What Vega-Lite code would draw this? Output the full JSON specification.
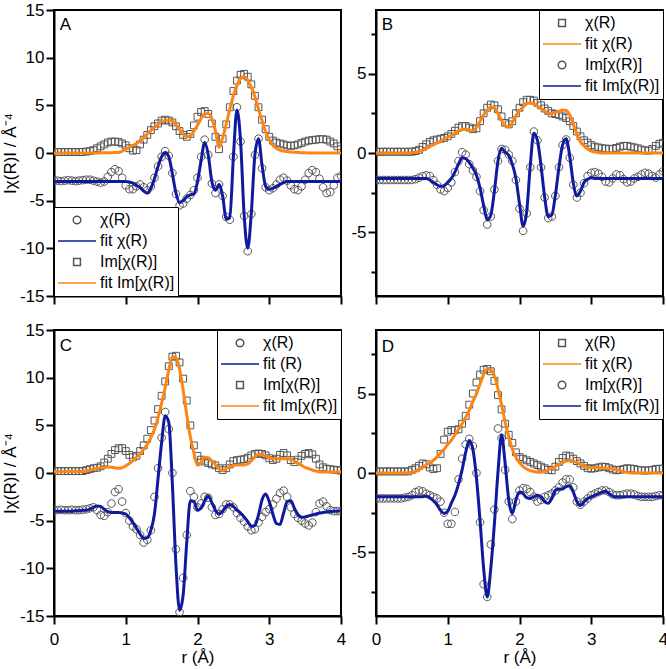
{
"$schema":"https://vega.github.io/schema/vega-lite/v6.json",
"background":"white",
"padding":0,
"autosize":{"type":"pad"},
"columns":2,
"spacing":{"row":34,"column":35},
"bounds":"flush",
"resolve":{"scale":{"x":"independent","y":"independent","shape":"independent","stroke":"independent"},"legend":{"shape":"independent","stroke":"independent"}},
"datasets":{
"A":[
{"r":0,"s":0.1,"c":-2.9,"fs":0,"fc":-3},{"r":0.05,"s":0.1,"c":-2.9,"fs":0,"fc":-3},{"r":0.1,"s":0.1,"c":-2.95,"fs":0,"fc":-3},{"r":0.15,"s":0.1,"c":-2.9,"fs":0,"fc":-3},{"r":0.2,"s":0.1,"c":-2.85,"fs":0,"fc":-3},{"r":0.25,"s":0.1,"c":-2.9,"fs":0,"fc":-3},{"r":0.3,"s":0.1,"c":-2.95,"fs":0,"fc":-3},{"r":0.35,"s":0.1,"c":-2.9,"fs":0,"fc":-3},{"r":0.4,"s":0.1,"c":-2.85,"fs":0,"fc":-3},{"r":0.45,"s":0.15,"c":-2.8,"fs":0,"fc":-3},{"r":0.5,"s":0.2,"c":-2.8,"fs":0,"fc":-3},{"r":0.55,"s":0.3,"c":-2.9,"fs":0,"fc":-3},{"r":0.6,"s":0.5,"c":-3,"fs":0,"fc":-3},{"r":0.65,"s":0.7,"c":-3.1,"fs":0.01,"fc":-3},{"r":0.7,"s":0.9,"c":-3,"fs":0.02,"fc":-3},{"r":0.75,"s":1.1,"c":-2.5,"fs":0.02,"fc":-3},{"r":0.8,"s":1.2,"c":-2,"fs":0.03,"fc":-3},{"r":0.85,"s":1.2,"c":-1.7,"fs":0.04,"fc":-3},{"r":0.9,"s":1.15,"c":-1.9,"fs":0.05,"fc":-3},{"r":0.95,"s":1,"c":-2.6,"fs":0.2,"fc":-3},{"r":1,"s":0.8,"c":-3.4,"fs":0.4,"fc":-3},{"r":1.05,"s":0.5,"c":-3.8,"fs":0.6,"fc":-3.05},{"r":1.1,"s":0.25,"c":-3.8,"fs":0.8,"fc":-3.15},{"r":1.15,"s":0.3,"c":-3.5,"fs":1,"fc":-3.4},{"r":1.2,"s":0.9,"c":-3.3,"fs":1.3,"fc":-3.6},{"r":1.25,"s":1.4,"c":-3.6,"fs":1.6,"fc":-4},{"r":1.3,"s":1.9,"c":-3.9,"fs":2,"fc":-4.2},{"r":1.35,"s":2.4,"c":-3.5,"fs":2.35,"fc":-3.7},{"r":1.4,"s":2.8,"c":-2.6,"fs":2.7,"fc":-2.7},{"r":1.45,"s":3.1,"c":-1.4,"fs":3,"fc":-1.4},{"r":1.5,"s":3.4,"c":-0.4,"fs":3.3,"fc":-0.4},{"r":1.55,"s":3.5,"c":0.2,"fs":3.4,"fc":0.05},{"r":1.6,"s":3.4,"c":-0.3,"fs":3.45,"fc":-0.4},{"r":1.65,"s":3.2,"c":-2.1,"fs":3.35,"fc":-2.2},{"r":1.7,"s":2.8,"c":-4.3,"fs":3,"fc":-4.2},{"r":1.75,"s":2.3,"c":-5.5,"fs":2.5,"fc":-5.2},{"r":1.8,"s":1.9,"c":-5.3,"fs":2,"fc":-5},{"r":1.85,"s":1.7,"c":-4.8,"fs":1.7,"fc":-4.6},{"r":1.9,"s":2,"c":-4.4,"fs":1.8,"fc":-4.4},{"r":1.95,"s":2.9,"c":-3.9,"fs":2.3,"fc":-4.3},{"r":2,"s":3.8,"c":-2.6,"fs":2.9,"fc":-3},{"r":2.05,"s":4.3,"c":-0.4,"fs":3.6,"fc":-0.8},{"r":2.1,"s":4.4,"c":1.4,"fs":4.1,"fc":1.1},{"r":2.15,"s":4.1,"c":-0.2,"fs":4.15,"fc":-0.2},{"r":2.2,"s":3.1,"c":-3.2,"fs":3.6,"fc":-3},{"r":2.25,"s":1.7,"c":-4.2,"fs":2.3,"fc":-3.9},{"r":2.3,"s":0.4,"c":-3.3,"fs":0.6,"fc":-3.3},{"r":2.35,"s":1.5,"c":-4.5,"fs":1.6,"fc":-4.5},{"r":2.4,"s":3,"c":-6.7,"fs":3,"fc":-6.9},{"r":2.45,"s":4.8,"c":-7,"fs":4.6,"fc":-6.8},{"r":2.5,"s":6.5,"c":-0.4,"fs":6,"fc":-0.4},{"r":2.55,"s":7.6,"c":4.8,"fs":7.1,"fc":4.5},{"r":2.6,"s":8.2,"c":1.2,"fs":7.8,"fc":1.3},{"r":2.65,"s":8.3,"c":-6.6,"fs":8,"fc":-6.5},{"r":2.7,"s":8,"c":-10.3,"fs":7.6,"fc":-10},{"r":2.75,"s":7.2,"c":-6.4,"fs":6.9,"fc":-6.3},{"r":2.8,"s":6,"c":-0.2,"fs":5.9,"fc":-0.2},{"r":2.85,"s":4.8,"c":1.5,"fs":4.6,"fc":1.5},{"r":2.9,"s":3.5,"c":-1.6,"fs":3.4,"fc":-1.3},{"r":2.95,"s":2.5,"c":-3.6,"fs":2.2,"fc":-3.5},{"r":3,"s":1.7,"c":-3.9,"fs":1.4,"fc":-3.8},{"r":3.05,"s":1.3,"c":-3.7,"fs":0.8,"fc":-3.7},{"r":3.1,"s":1.1,"c":-3.3,"fs":0.5,"fc":-3.5},{"r":3.15,"s":1,"c":-2.8,"fs":0.3,"fc":-3.3},{"r":3.2,"s":0.9,"c":-2.6,"fs":0.2,"fc":-3.1},{"r":3.25,"s":0.8,"c":-2.9,"fs":0.15,"fc":-3},{"r":3.3,"s":0.75,"c":-3.4,"fs":0.1,"fc":-3},{"r":3.35,"s":0.8,"c":-3.8,"fs":0.08,"fc":-3},{"r":3.4,"s":0.9,"c":-3.9,"fs":0.05,"fc":-3},{"r":3.45,"s":1.05,"c":-3.5,"fs":0.03,"fc":-3},{"r":3.5,"s":1.2,"c":-2.8,"fs":0.02,"fc":-3},{"r":3.55,"s":1.3,"c":-2.1,"fs":0.01,"fc":-3},{"r":3.6,"s":1.35,"c":-1.8,"fs":0,"fc":-3},{"r":3.65,"s":1.4,"c":-2,"fs":0,"fc":-3},{"r":3.7,"s":1.45,"c":-2.7,"fs":0,"fc":-3},{"r":3.75,"s":1.45,"c":-3.6,"fs":0,"fc":-3},{"r":3.8,"s":1.4,"c":-4.2,"fs":0,"fc":-3},{"r":3.85,"s":1.2,"c":-4.1,"fs":0,"fc":-3},{"r":3.9,"s":1,"c":-3.4,"fs":0,"fc":-3},{"r":3.95,"s":0.7,"c":-2.6,"fs":0,"fc":-3},{"r":4,"s":0.4,"c":-2.4,"fs":0,"fc":-3}
],
"B":[
{"r":0,"s":0.08,"c":-1.7,"fs":0,"fc":-1.6},{"r":0.05,"s":0.08,"c":-1.7,"fs":0,"fc":-1.6},{"r":0.1,"s":0.08,"c":-1.7,"fs":0,"fc":-1.6},{"r":0.15,"s":0.08,"c":-1.7,"fs":0,"fc":-1.6},{"r":0.2,"s":0.08,"c":-1.7,"fs":0,"fc":-1.6},{"r":0.25,"s":0.08,"c":-1.7,"fs":0,"fc":-1.6},{"r":0.3,"s":0.08,"c":-1.7,"fs":0,"fc":-1.6},{"r":0.35,"s":0.08,"c":-1.7,"fs":0,"fc":-1.6},{"r":0.4,"s":0.08,"c":-1.7,"fs":0,"fc":-1.6},{"r":0.45,"s":0.08,"c":-1.7,"fs":0,"fc":-1.6},{"r":0.5,"s":0.08,"c":-1.7,"fs":0.02,"fc":-1.6},{"r":0.55,"s":0.12,"c":-1.65,"fs":0.05,"fc":-1.6},{"r":0.6,"s":0.2,"c":-1.55,"fs":0.1,"fc":-1.6},{"r":0.65,"s":0.38,"c":-1.45,"fs":0.17,"fc":-1.6},{"r":0.7,"s":0.55,"c":-1.4,"fs":0.27,"fc":-1.6},{"r":0.75,"s":0.7,"c":-1.45,"fs":0.4,"fc":-1.7},{"r":0.8,"s":0.8,"c":-1.7,"fs":0.52,"fc":-1.85},{"r":0.85,"s":0.85,"c":-2,"fs":0.63,"fc":-2},{"r":0.9,"s":0.9,"c":-2.3,"fs":0.75,"fc":-2.1},{"r":0.95,"s":0.95,"c":-2.4,"fs":0.87,"fc":-2.05},{"r":1,"s":1.05,"c":-2.2,"fs":1,"fc":-1.85},{"r":1.05,"s":1.2,"c":-1.85,"fs":1.1,"fc":-1.6},{"r":1.1,"s":1.4,"c":-1.2,"fs":1.25,"fc":-1.2},{"r":1.15,"s":1.6,"c":-0.5,"fs":1.38,"fc":-0.7},{"r":1.2,"s":1.7,"c":0.05,"fs":1.48,"fc":-0.3},{"r":1.25,"s":1.7,"c":-0.1,"fs":1.5,"fc":-0.35},{"r":1.3,"s":1.6,"c":-0.7,"fs":1.42,"fc":-0.6},{"r":1.35,"s":1.5,"c":-1.1,"fs":1.4,"fc":-0.95},{"r":1.4,"s":1.55,"c":-1.5,"fs":1.6,"fc":-1.4},{"r":1.45,"s":2,"c":-2.4,"fs":2,"fc":-2.2},{"r":1.5,"s":2.5,"c":-3.6,"fs":2.4,"fc":-3.3},{"r":1.55,"s":2.85,"c":-4.5,"fs":2.7,"fc":-4.2},{"r":1.6,"s":3.05,"c":-4,"fs":2.9,"fc":-3.9},{"r":1.65,"s":3,"c":-2.3,"fs":2.85,"fc":-2.4},{"r":1.7,"s":2.75,"c":-0.5,"fs":2.5,"fc":-0.5},{"r":1.75,"s":2.3,"c":0.25,"fs":2.05,"fc":0.3},{"r":1.8,"s":1.9,"c":0.2,"fs":1.7,"fc":0.05},{"r":1.85,"s":1.8,"c":-0.1,"fs":1.65,"fc":-0.15},{"r":1.9,"s":2,"c":-0.5,"fs":1.9,"fc":-0.7},{"r":1.95,"s":2.5,"c":-1.7,"fs":2.35,"fc":-1.6},{"r":2,"s":2.85,"c":-3.5,"fs":2.65,"fc":-3.2},{"r":2.05,"s":3.2,"c":-4.9,"fs":2.9,"fc":-4.6},{"r":2.1,"s":3.35,"c":-3.8,"fs":3.1,"fc":-3.7},{"r":2.15,"s":3.35,"c":-0.9,"fs":3.15,"fc":-0.8},{"r":2.2,"s":3.3,"c":1.35,"fs":3.1,"fc":1.25},{"r":2.25,"s":3.15,"c":0.8,"fs":2.95,"fc":0.8},{"r":2.3,"s":3,"c":-0.9,"fs":2.8,"fc":-0.8},{"r":2.35,"s":2.8,"c":-2.8,"fs":2.65,"fc":-2.75},{"r":2.4,"s":2.65,"c":-4.1,"fs":2.5,"fc":-4},{"r":2.45,"s":2.5,"c":-4,"fs":2.5,"fc":-3.9},{"r":2.5,"s":2.45,"c":-2.7,"fs":2.55,"fc":-2.65},{"r":2.55,"s":2.4,"c":-0.9,"fs":2.62,"fc":-0.9},{"r":2.6,"s":2.3,"c":0.5,"fs":2.7,"fc":0.5},{"r":2.65,"s":2.2,"c":0.85,"fs":2.68,"fc":0.9},{"r":2.7,"s":2,"c":-0.3,"fs":2.4,"fc":-0.2},{"r":2.75,"s":1.7,"c":-2,"fs":1.8,"fc":-1.9},{"r":2.8,"s":1.35,"c":-2.8,"fs":1.2,"fc":-2.7},{"r":2.85,"s":1.05,"c":-2.5,"fs":0.7,"fc":-2.4},{"r":2.9,"s":0.8,"c":-1.9,"fs":0.45,"fc":-1.85},{"r":2.95,"s":0.65,"c":-1.45,"fs":0.25,"fc":-1.65},{"r":3,"s":0.5,"c":-1.25,"fs":0.12,"fc":-1.55},{"r":3.05,"s":0.4,"c":-1.2,"fs":0.06,"fc":-1.6},{"r":3.1,"s":0.35,"c":-1.3,"fs":0.03,"fc":-1.6},{"r":3.15,"s":0.3,"c":-1.5,"fs":0,"fc":-1.6},{"r":3.2,"s":0.28,"c":-1.8,"fs":0,"fc":-1.6},{"r":3.25,"s":0.25,"c":-1.85,"fs":0,"fc":-1.6},{"r":3.3,"s":0.27,"c":-1.6,"fs":0,"fc":-1.6},{"r":3.35,"s":0.32,"c":-1.35,"fs":0,"fc":-1.6},{"r":3.4,"s":0.4,"c":-1.4,"fs":0,"fc":-1.6},{"r":3.45,"s":0.45,"c":-1.65,"fs":0,"fc":-1.6},{"r":3.5,"s":0.45,"c":-1.85,"fs":0,"fc":-1.6},{"r":3.55,"s":0.4,"c":-1.8,"fs":0,"fc":-1.6},{"r":3.6,"s":0.35,"c":-1.6,"fs":0,"fc":-1.6},{"r":3.65,"s":0.3,"c":-1.5,"fs":0,"fc":-1.6},{"r":3.7,"s":0.22,"c":-1.35,"fs":0,"fc":-1.6},{"r":3.75,"s":0.16,"c":-1.25,"fs":0,"fc":-1.6},{"r":3.8,"s":0.15,"c":-1.3,"fs":0,"fc":-1.6},{"r":3.85,"s":0.25,"c":-1.45,"fs":0,"fc":-1.6},{"r":3.9,"s":0.45,"c":-1.55,"fs":0,"fc":-1.6},{"r":3.95,"s":0.58,"c":-1.35,"fs":0,"fc":-1.6},{"r":4,"s":0.65,"c":-1.15,"fs":0,"fc":-1.6}
],
"C":[
{"r":0,"s":0.2,"c":-3.9,"fs":0.15,"fc":-4},{"r":0.05,"s":0.2,"c":-3.9,"fs":0.15,"fc":-4},{"r":0.1,"s":0.2,"c":-3.85,"fs":0.15,"fc":-4},{"r":0.15,"s":0.2,"c":-3.9,"fs":0.15,"fc":-4},{"r":0.2,"s":0.2,"c":-3.9,"fs":0.15,"fc":-4},{"r":0.25,"s":0.2,"c":-3.85,"fs":0.15,"fc":-4},{"r":0.3,"s":0.2,"c":-3.9,"fs":0.15,"fc":-3.95},{"r":0.35,"s":0.2,"c":-3.9,"fs":0.15,"fc":-3.95},{"r":0.4,"s":0.2,"c":-3.85,"fs":0.15,"fc":-3.9},{"r":0.45,"s":0.3,"c":-3.8,"fs":0.2,"fc":-3.9},{"r":0.5,"s":0.4,"c":-3.7,"fs":0.3,"fc":-3.8},{"r":0.55,"s":0.5,"c":-3.6,"fs":0.4,"fc":-3.6},{"r":0.6,"s":0.55,"c":-3.9,"fs":0.5,"fc":-3.45},{"r":0.65,"s":0.7,"c":-4.4,"fs":0.55,"fc":-3.5},{"r":0.7,"s":1.1,"c":-4.5,"fs":0.6,"fc":-3.8},{"r":0.75,"s":1.5,"c":-4.1,"fs":0.62,"fc":-4.05},{"r":0.8,"s":2,"c":-3.2,"fs":0.6,"fc":-4.15},{"r":0.85,"s":2.4,"c":-2,"fs":0.55,"fc":-4.15},{"r":0.9,"s":2.6,"c":-1.7,"fs":0.5,"fc":-4.15},{"r":0.95,"s":2.6,"c":-3,"fs":0.55,"fc":-4.2},{"r":1,"s":2.3,"c":-4.2,"fs":0.75,"fc":-4.3},{"r":1.05,"s":1.9,"c":-5,"fs":1,"fc":-4.7},{"r":1.1,"s":1.65,"c":-5.6,"fs":1.3,"fc":-5.2},{"r":1.15,"s":1.8,"c":-5.9,"fs":1.65,"fc":-5.8},{"r":1.2,"s":2.3,"c":-6.5,"fs":2,"fc":-6.4},{"r":1.25,"s":2.9,"c":-7.3,"fs":2.5,"fc":-6.85},{"r":1.3,"s":3.6,"c":-7,"fs":3,"fc":-6.8},{"r":1.35,"s":4.5,"c":-6,"fs":3.7,"fc":-6},{"r":1.4,"s":5.5,"c":-2.5,"fs":4.6,"fc":-4.3},{"r":1.45,"s":6.7,"c":0.5,"fs":5.8,"fc":-0.6},{"r":1.5,"s":8.1,"c":3.7,"fs":7.3,"fc":3.2},{"r":1.55,"s":9.6,"c":6.4,"fs":9,"fc":6},{"r":1.6,"s":11.2,"c":4.6,"fs":10.8,"fc":5.3},{"r":1.65,"s":12.2,"c":0,"fs":12.2,"fc":-1.2},{"r":1.7,"s":12.3,"c":-8,"fs":12.1,"fc":-9.7},{"r":1.75,"s":11.6,"c":-14.6,"fs":10.9,"fc":-14.4},{"r":1.8,"s":9.9,"c":-11,"fs":8.7,"fc":-12.8},{"r":1.85,"s":7.6,"c":-6.5,"fs":6.1,"fc":-7.3},{"r":1.9,"s":5,"c":-1.9,"fs":3.8,"fc":-2.9},{"r":1.95,"s":2.9,"c":-2.5,"fs":2.1,"fc":-3},{"r":2,"s":1.8,"c":-3.6,"fs":0.8,"fc":-3.9},{"r":2.05,"s":1.4,"c":-3.2,"fs":1.1,"fc":-3.7},{"r":2.1,"s":1.2,"c":-2.5,"fs":1.65,"fc":-2.9},{"r":2.15,"s":1.05,"c":-2.6,"fs":1.6,"fc":-2.4},{"r":2.2,"s":0.9,"c":-3.6,"fs":1.25,"fc":-3.1},{"r":2.25,"s":0.8,"c":-4.4,"fs":0.9,"fc":-3.9},{"r":2.3,"s":0.5,"c":-4.3,"fs":0.45,"fc":-4.3},{"r":2.35,"s":0.3,"c":-3.8,"fs":0.25,"fc":-4},{"r":2.4,"s":0.5,"c":-3.3,"fs":0.45,"fc":-3.5},{"r":2.45,"s":0.9,"c":-3.3,"fs":0.65,"fc":-3.3},{"r":2.5,"s":1.25,"c":-3.6,"fs":0.8,"fc":-3.5},{"r":2.55,"s":1.35,"c":-4.2,"fs":0.85,"fc":-3.9},{"r":2.6,"s":1.4,"c":-4.7,"fs":0.85,"fc":-4.2},{"r":2.65,"s":1.45,"c":-5.1,"fs":0.85,"fc":-4.6},{"r":2.7,"s":1.6,"c":-5.6,"fs":0.95,"fc":-5.1},{"r":2.75,"s":1.85,"c":-6,"fs":1.3,"fc":-5.6},{"r":2.8,"s":2,"c":-5.9,"fs":1.7,"fc":-5.5},{"r":2.85,"s":2.05,"c":-5.2,"fs":1.95,"fc":-4.4},{"r":2.9,"s":2,"c":-4.6,"fs":1.95,"fc":-2.8},{"r":2.95,"s":1.85,"c":-4.1,"fs":1.8,"fc":-2.2},{"r":3,"s":1.55,"c":-3.8,"fs":1.6,"fc":-3},{"r":3.05,"s":1.35,"c":-3.3,"fs":1.5,"fc":-4.3},{"r":3.1,"s":1.5,"c":-2.7,"fs":1.5,"fc":-5.3},{"r":3.15,"s":1.9,"c":-2.1,"fs":1.5,"fc":-5.4},{"r":3.2,"s":2.1,"c":-1.85,"fs":1.5,"fc":-4.2},{"r":3.25,"s":1.85,"c":-2.5,"fs":1.5,"fc":-3},{"r":3.3,"s":1.35,"c":-3.6,"fs":1.45,"fc":-2.9},{"r":3.35,"s":1.15,"c":-4.3,"fs":1.25,"fc":-3.7},{"r":3.4,"s":1.4,"c":-4.7,"fs":1,"fc":-4.4},{"r":3.45,"s":1.8,"c":-5,"fs":0.8,"fc":-4.65},{"r":3.5,"s":2,"c":-5.3,"fs":0.6,"fc":-4.6},{"r":3.55,"s":2.1,"c":-5.5,"fs":0.45,"fc":-4.5},{"r":3.6,"s":1.95,"c":-5.2,"fs":0.3,"fc":-4.4},{"r":3.65,"s":1.5,"c":-4.1,"fs":0.2,"fc":-4.3},{"r":3.7,"s":0.9,"c":-3.2,"fs":0.12,"fc":-4.2},{"r":3.75,"s":0.6,"c":-3,"fs":0.1,"fc":-4.15},{"r":3.8,"s":0.45,"c":-3.5,"fs":0.1,"fc":-4.1},{"r":3.85,"s":0.4,"c":-3.9,"fs":0.1,"fc":-4.05},{"r":3.9,"s":0.35,"c":-4,"fs":0.1,"fc":-4},{"r":3.95,"s":0.3,"c":-4,"fs":0.1,"fc":-4},{"r":4,"s":0.25,"c":-4,"fs":0.1,"fc":-3.95}
],
"D":[
{"r":0,"s":0.1,"c":-1.6,"fs":0,"fc":-1.5},{"r":0.05,"s":0.1,"c":-1.6,"fs":0,"fc":-1.5},{"r":0.1,"s":0.1,"c":-1.6,"fs":0,"fc":-1.5},{"r":0.15,"s":0.1,"c":-1.6,"fs":0,"fc":-1.5},{"r":0.2,"s":0.1,"c":-1.6,"fs":0,"fc":-1.5},{"r":0.25,"s":0.1,"c":-1.6,"fs":0,"fc":-1.5},{"r":0.3,"s":0.1,"c":-1.6,"fs":0,"fc":-1.5},{"r":0.35,"s":0.1,"c":-1.6,"fs":0,"fc":-1.5},{"r":0.4,"s":0.1,"c":-1.55,"fs":0,"fc":-1.5},{"r":0.45,"s":0.1,"c":-1.5,"fs":0,"fc":-1.5},{"r":0.5,"s":0.2,"c":-1.4,"fs":0.05,"fc":-1.5},{"r":0.55,"s":0.3,"c":-1.2,"fs":0.1,"fc":-1.5},{"r":0.6,"s":0.45,"c":-1.1,"fs":0.2,"fc":-1.5},{"r":0.65,"s":0.6,"c":-1.15,"fs":0.35,"fc":-1.5},{"r":0.7,"s":0.55,"c":-1.3,"fs":0.5,"fc":-1.45},{"r":0.75,"s":0.35,"c":-1.4,"fs":0.65,"fc":-1.55},{"r":0.8,"s":0.25,"c":-1.5,"fs":0.8,"fc":-1.75},{"r":0.85,"s":0.3,"c":-1.6,"fs":1,"fc":-2},{"r":0.9,"s":1.2,"c":-1.8,"fs":1.25,"fc":-2.35},{"r":0.95,"s":2.1,"c":-2.5,"fs":1.5,"fc":-2.55},{"r":1,"s":2.6,"c":-3.2,"fs":1.8,"fc":-2.4},{"r":1.05,"s":2.7,"c":-3.2,"fs":2.05,"fc":-1.9},{"r":1.1,"s":2.7,"c":-2.45,"fs":2.4,"fc":-1.4},{"r":1.15,"s":2.75,"c":-0.4,"fs":2.75,"fc":-0.7},{"r":1.2,"s":3.1,"c":0.9,"fs":3.1,"fc":0.2},{"r":1.25,"s":3.6,"c":1.8,"fs":3.5,"fc":1.3},{"r":1.3,"s":4.3,"c":2.15,"fs":3.95,"fc":2.05},{"r":1.35,"s":5,"c":1.7,"fs":4.5,"fc":1.5},{"r":1.4,"s":5.7,"c":0,"fs":5,"fc":-0.3},{"r":1.45,"s":6.2,"c":-3.1,"fs":5.6,"fc":-3},{"r":1.5,"s":6.5,"c":-7,"fs":6.2,"fc":-6},{"r":1.55,"s":6.55,"c":-7.8,"fs":6.55,"fc":-7.8},{"r":1.6,"s":6.4,"c":-4.5,"fs":6.5,"fc":-6},{"r":1.65,"s":5.8,"c":-2.3,"fs":6.1,"fc":-3.2},{"r":1.7,"s":4.9,"c":2.8,"fs":5.3,"fc":0.05},{"r":1.75,"s":4,"c":2.2,"fs":4.3,"fc":2.4},{"r":1.8,"s":3.1,"c":0.2,"fs":3.2,"fc":0.6},{"r":1.85,"s":2.4,"c":-1.8,"fs":2.3,"fc":-1.7},{"r":1.9,"s":1.9,"c":-2.9,"fs":1.5,"fc":-2.55},{"r":1.95,"s":1.3,"c":-1.8,"fs":1,"fc":-1.7},{"r":2,"s":1,"c":-1.1,"fs":0.65,"fc":-1.2},{"r":2.05,"s":0.9,"c":-0.95,"fs":0.4,"fc":-1.3},{"r":2.1,"s":0.8,"c":-1,"fs":0.25,"fc":-1.55},{"r":2.15,"s":0.7,"c":-1.2,"fs":0.15,"fc":-1.6},{"r":2.2,"s":0.6,"c":-1.5,"fs":0.1,"fc":-1.5},{"r":2.25,"s":0.5,"c":-1.8,"fs":0.05,"fc":-1.4},{"r":2.3,"s":0.4,"c":-1.7,"fs":0.05,"fc":-1.5},{"r":2.35,"s":0.3,"c":-1.5,"fs":0.1,"fc":-1.8},{"r":2.4,"s":0.2,"c":-1.4,"fs":0.2,"fc":-1.9},{"r":2.45,"s":0.17,"c":-1.3,"fs":0.3,"fc":-1.6},{"r":2.5,"s":0.4,"c":-1.1,"fs":0.42,"fc":-1.1},{"r":2.55,"s":0.7,"c":-0.9,"fs":0.55,"fc":-1},{"r":2.6,"s":0.95,"c":-0.6,"fs":0.65,"fc":-1},{"r":2.65,"s":1.1,"c":-0.4,"fs":0.75,"fc":-0.85},{"r":2.7,"s":1.05,"c":-0.4,"fs":0.8,"fc":-0.8},{"r":2.75,"s":0.9,"c":-0.9,"fs":0.75,"fc":-1.2},{"r":2.8,"s":0.75,"c":-1.8,"fs":0.65,"fc":-1.8},{"r":2.85,"s":0.6,"c":-2,"fs":0.55,"fc":-2.05},{"r":2.9,"s":0.45,"c":-1.8,"fs":0.45,"fc":-1.8},{"r":2.95,"s":0.3,"c":-1.6,"fs":0.38,"fc":-1.6},{"r":3,"s":0.27,"c":-1.4,"fs":0.34,"fc":-1.5},{"r":3.05,"s":0.3,"c":-1.3,"fs":0.33,"fc":-1.4},{"r":3.1,"s":0.35,"c":-1.2,"fs":0.35,"fc":-1.3},{"r":3.15,"s":0.4,"c":-1.1,"fs":0.33,"fc":-1.2},{"r":3.2,"s":0.38,"c":-1.1,"fs":0.3,"fc":-1.15},{"r":3.25,"s":0.3,"c":-1.2,"fs":0.27,"fc":-1.3},{"r":3.3,"s":0.22,"c":-1.35,"fs":0.25,"fc":-1.45},{"r":3.35,"s":0.17,"c":-1.4,"fs":0.2,"fc":-1.5},{"r":3.4,"s":0.2,"c":-1.4,"fs":0.15,"fc":-1.5},{"r":3.45,"s":0.25,"c":-1.35,"fs":0.08,"fc":-1.5},{"r":3.5,"s":0.3,"c":-1.3,"fs":0.04,"fc":-1.5},{"r":3.55,"s":0.28,"c":-1.3,"fs":0,"fc":-1.5},{"r":3.6,"s":0.25,"c":-1.35,"fs":0,"fc":-1.5},{"r":3.65,"s":0.2,"c":-1.45,"fs":0,"fc":-1.5},{"r":3.7,"s":0.17,"c":-1.5,"fs":0,"fc":-1.5},{"r":3.75,"s":0.15,"c":-1.5,"fs":0,"fc":-1.5},{"r":3.8,"s":0.17,"c":-1.5,"fs":0,"fc":-1.5},{"r":3.85,"s":0.2,"c":-1.5,"fs":0,"fc":-1.5},{"r":3.9,"s":0.25,"c":-1.45,"fs":0,"fc":-1.5},{"r":3.95,"s":0.27,"c":-1.4,"fs":0,"fc":-1.5},{"r":4,"s":0.27,"c":-1.4,"fs":0,"fc":-1.5}
]
},
"concat":[
{
"width":287,"height":286,"data":{"name":"A"},
"layer":[
{"transform":[{"fold":["s","c"],"as":["series","v"]}],
"mark":{"type":"point","size":1444,"filled":false,"opacity":1,"strokeWidth":1,"clip":true},
"encoding":{
"x":{"field":"r","type":"quantitative","scale":{"domain":[0,4],"nice":false,"zero":false},"axis":{"values":[0,0.5,1,1.5,2,2.5,3,3.5,4],"labels":false,"title":null,"tickSize":{"condition":{"test":"datum.value % 1 === 0","value":8},"value":5}}},
"y":{"field":"v","type":"quantitative","scale":{"domain":[-15,15],"nice":false,"zero":false},"axis":{"values":[-15,-12.5,-10,-7.5,-5,-2.5,0,2.5,5,7.5,10,12.5,15],"labelExpr":"datum.value % 5 === 0 ? '' + datum.value : ''","title":"Iχ(R)I / Å⁻⁴","tickSize":{"condition":{"test":"datum.value % 5 === 0","value":8},"value":5}}},
"shape":{"field":"series","type":"nominal","scale":{"domain":["c","fc","s","fs"],"range":["M0.2,0A0.2,0.2,0,1,1,-0.2,0A0.2,0.2,0,1,1,0.2,0Z","M-1,0H1","M-0.18,-0.18H0.18V0.18H-0.18Z","M-1,0H1"]},"legend":{"title":null,"orient":"bottom-left","offset":0,"labelExpr":"datum.label=='c'?'χ(R)':datum.label=='fc'?'fit χ(R)':datum.label=='s'?'Im[χ(R)]':'fit Im[χ(R)]'","encode":{"symbols":{"update":{"strokeWidth":{"signal":"datum.value=='fs'||datum.value=='fc'?3:1"}}}}}},
"stroke":{"field":"series","type":"nominal","scale":{"domain":["c","fc","s","fs"],"range":["#555555","#101aa0","#555555","#ff8411"]},"legend":{"title":null,"orient":"bottom-left","offset":0,"labelExpr":"datum.label=='c'?'χ(R)':datum.label=='fc'?'fit χ(R)':datum.label=='s'?'Im[χ(R)]':'fit Im[χ(R)]'","encode":{"symbols":{"update":{"strokeWidth":{"signal":"datum.value=='fs'||datum.value=='fc'?3:1"}}}}}}
}},
{"transform":[{"fold":["fs","fc"],"as":["series","v"]}],
"mark":{"type":"line","strokeWidth":3,"interpolate":"monotone","clip":true},
"encoding":{"x":{"field":"r","type":"quantitative"},"y":{"field":"v","type":"quantitative"},"stroke":{"field":"series","type":"nominal"}}},
{"data":{"values":[{"lab":"A"}]},"mark":{"type":"text","align":"left","baseline":"middle","fontSize":17,"font":"Liberation Sans","color":"#000"},
"encoding":{"x":{"datum":0.08},"y":{"datum":13.4},"text":{"field":"lab"}}}
]
},
{
"width":287,"height":286,"data":{"name":"B"},
"layer":[
{"transform":[{"fold":["s","c"],"as":["series","v"]}],
"mark":{"type":"point","size":1444,"filled":false,"opacity":1,"strokeWidth":1,"clip":true},
"encoding":{
"x":{"field":"r","type":"quantitative","scale":{"domain":[0,4],"nice":false,"zero":false},"axis":{"values":[0,0.5,1,1.5,2,2.5,3,3.5,4],"labels":false,"title":null,"tickSize":{"condition":{"test":"datum.value % 1 === 0","value":8},"value":5}}},
"y":{"field":"v","type":"quantitative","scale":{"domain":[-9,9],"nice":false,"zero":false},"axis":{"values":[-7.5,-5,-2.5,0,2.5,5,7.5],"labelExpr":"datum.value % 5 === 0 ? '' + datum.value : ''","title":null,"tickSize":{"condition":{"test":"datum.value % 5 === 0","value":8},"value":5}}},
"shape":{"field":"series","type":"nominal","scale":{"domain":["s","fs","c","fc"],"range":["M-0.18,-0.18H0.18V0.18H-0.18Z","M-1,0H1","M0.2,0A0.2,0.2,0,1,1,-0.2,0A0.2,0.2,0,1,1,0.2,0Z","M-1,0H1"]},"legend":{"title":null,"orient":"top-right","offset":0,"labelExpr":"datum.label=='s'?'χ(R)':datum.label=='fs'?'fit χ(R)':datum.label=='c'?'Im[χ(R)]':'fit Im[χ(R)]'","encode":{"symbols":{"update":{"strokeWidth":{"signal":"datum.value=='fs'||datum.value=='fc'?3:1"}}}}}},
"stroke":{"field":"series","type":"nominal","scale":{"domain":["s","fs","c","fc"],"range":["#555555","#ff8411","#555555","#101aa0"]},"legend":{"title":null,"orient":"top-right","offset":0,"labelExpr":"datum.label=='s'?'χ(R)':datum.label=='fs'?'fit χ(R)':datum.label=='c'?'Im[χ(R)]':'fit Im[χ(R)]'","encode":{"symbols":{"update":{"strokeWidth":{"signal":"datum.value=='fs'||datum.value=='fc'?3:1"}}}}}}
}},
{"transform":[{"fold":["fs","fc"],"as":["series","v"]}],
"mark":{"type":"line","strokeWidth":3,"interpolate":"monotone","clip":true},
"encoding":{"x":{"field":"r","type":"quantitative"},"y":{"field":"v","type":"quantitative"},"stroke":{"field":"series","type":"nominal"}}},
{"data":{"values":[{"lab":"B"}]},"mark":{"type":"text","align":"left","baseline":"middle","fontSize":17,"font":"Liberation Sans","color":"#000"},
"encoding":{"x":{"datum":0.08},"y":{"datum":8.05},"text":{"field":"lab"}}}
]
},
{
"width":287,"height":286,"data":{"name":"C"},
"layer":[
{"transform":[{"fold":["s","c"],"as":["series","v"]}],
"mark":{"type":"point","size":1444,"filled":false,"opacity":1,"strokeWidth":1,"clip":true},
"encoding":{
"x":{"field":"r","type":"quantitative","scale":{"domain":[0,4],"nice":false,"zero":false},"axis":{"values":[0,0.5,1,1.5,2,2.5,3,3.5,4],"labelExpr":"datum.value % 1 === 0 ? '' + datum.value : ''","title":"r (Å)","titlePadding":2,"labelPadding":7,"tickSize":{"condition":{"test":"datum.value % 1 === 0","value":8},"value":5}}},
"y":{"field":"v","type":"quantitative","scale":{"domain":[-15,15],"nice":false,"zero":false},"axis":{"values":[-15,-12.5,-10,-7.5,-5,-2.5,0,2.5,5,7.5,10,12.5,15],"labelExpr":"datum.value % 5 === 0 ? '' + datum.value : ''","title":"Iχ(R)I / Å⁻⁴","tickSize":{"condition":{"test":"datum.value % 5 === 0","value":8},"value":5}}},
"shape":{"field":"series","type":"nominal","scale":{"domain":["c","fc","s","fs"],"range":["M0.2,0A0.2,0.2,0,1,1,-0.2,0A0.2,0.2,0,1,1,0.2,0Z","M-1,0H1","M-0.18,-0.18H0.18V0.18H-0.18Z","M-1,0H1"]},"legend":{"title":null,"orient":"top-right","offset":0,"labelExpr":"datum.label=='c'?'χ(R)':datum.label=='fc'?'fit (R)':datum.label=='s'?'Im[χ(R)]':'fit Im[χ(R)]'","encode":{"symbols":{"update":{"strokeWidth":{"signal":"datum.value=='fs'||datum.value=='fc'?3:1"}}}}}},
"stroke":{"field":"series","type":"nominal","scale":{"domain":["c","fc","s","fs"],"range":["#555555","#101aa0","#555555","#ff8411"]},"legend":{"title":null,"orient":"top-right","offset":0,"labelExpr":"datum.label=='c'?'χ(R)':datum.label=='fc'?'fit (R)':datum.label=='s'?'Im[χ(R)]':'fit Im[χ(R)]'","encode":{"symbols":{"update":{"strokeWidth":{"signal":"datum.value=='fs'||datum.value=='fc'?3:1"}}}}}}
}},
{"transform":[{"fold":["fs","fc"],"as":["series","v"]}],
"mark":{"type":"line","strokeWidth":3,"interpolate":"monotone","clip":true},
"encoding":{"x":{"field":"r","type":"quantitative"},"y":{"field":"v","type":"quantitative"},"stroke":{"field":"series","type":"nominal"}}},
{"data":{"values":[{"lab":"C"}]},"mark":{"type":"text","align":"left","baseline":"middle","fontSize":17,"font":"Liberation Sans","color":"#000"},
"encoding":{"x":{"datum":0.08},"y":{"datum":13.3},"text":{"field":"lab"}}}
]
},
{
"width":287,"height":286,"data":{"name":"D"},
"layer":[
{"transform":[{"fold":["s","c"],"as":["series","v"]}],
"mark":{"type":"point","size":1444,"filled":false,"opacity":1,"strokeWidth":1,"clip":true},
"encoding":{
"x":{"field":"r","type":"quantitative","scale":{"domain":[0,4],"nice":false,"zero":false},"axis":{"values":[0,0.5,1,1.5,2,2.5,3,3.5,4],"labelExpr":"datum.value % 1 === 0 ? '' + datum.value : ''","title":"r (Å)","titlePadding":2,"labelPadding":7,"tickSize":{"condition":{"test":"datum.value % 1 === 0","value":8},"value":5}}},
"y":{"field":"v","type":"quantitative","scale":{"domain":[-9,9],"nice":false,"zero":false},"axis":{"values":[-7.5,-5,-2.5,0,2.5,5,7.5],"labelExpr":"datum.value % 5 === 0 ? '' + datum.value : ''","title":null,"tickSize":{"condition":{"test":"datum.value % 5 === 0","value":8},"value":5}}},
"shape":{"field":"series","type":"nominal","scale":{"domain":["s","fs","c","fc"],"range":["M-0.18,-0.18H0.18V0.18H-0.18Z","M-1,0H1","M0.2,0A0.2,0.2,0,1,1,-0.2,0A0.2,0.2,0,1,1,0.2,0Z","M-1,0H1"]},"legend":{"title":null,"orient":"top-right","offset":0,"labelExpr":"datum.label=='s'?'χ(R)':datum.label=='fs'?'fit χ(R)':datum.label=='c'?'Im[χ(R)]':'fit Im[χ(R)]'","encode":{"symbols":{"update":{"strokeWidth":{"signal":"datum.value=='fs'||datum.value=='fc'?3:1"}}}}}},
"stroke":{"field":"series","type":"nominal","scale":{"domain":["s","fs","c","fc"],"range":["#555555","#ff8411","#555555","#101aa0"]},"legend":{"title":null,"orient":"top-right","offset":0,"labelExpr":"datum.label=='s'?'χ(R)':datum.label=='fs'?'fit χ(R)':datum.label=='c'?'Im[χ(R)]':'fit Im[χ(R)]'","encode":{"symbols":{"update":{"strokeWidth":{"signal":"datum.value=='fs'||datum.value=='fc'?3:1"}}}}}}
}},
{"transform":[{"fold":["fs","fc"],"as":["series","v"]}],
"mark":{"type":"line","strokeWidth":3,"interpolate":"monotone","clip":true},
"encoding":{"x":{"field":"r","type":"quantitative"},"y":{"field":"v","type":"quantitative"},"stroke":{"field":"series","type":"nominal"}}},
{"data":{"values":[{"lab":"D"}]},"mark":{"type":"text","align":"left","baseline":"middle","fontSize":17,"font":"Liberation Sans","color":"#000"},
"encoding":{"x":{"datum":0.08},"y":{"datum":7.95},"text":{"field":"lab"}}}
]
}
],
"config":{
"font":"Liberation Sans",
"view":{"stroke":"#000","strokeWidth":2},
"axis":{"grid":false,"domain":true,"domainColor":"#000","domainWidth":2,"tickColor":"#000","tickWidth":2,"labelFont":"Liberation Sans","labelFontSize":17,"labelColor":"#000","labelFlush":false,"labelOverlap":false,"labelPadding":2,"titleFont":"Liberation Sans","titleFontSize":17,"titleFontWeight":"normal","titleColor":"#000","titlePadding":0},
"legend":{"padding":3,"strokeColor":"#000","fillColor":"#fff","symbolSize":1444,"clipHeight":20,"rowPadding":1,"labelFont":"Liberation Sans","labelFontSize":16,"labelColor":"#000","labelOffset":3,"symbolFillColor":"transparent","labelLimit":200,"cornerRadius":0}
}
}
